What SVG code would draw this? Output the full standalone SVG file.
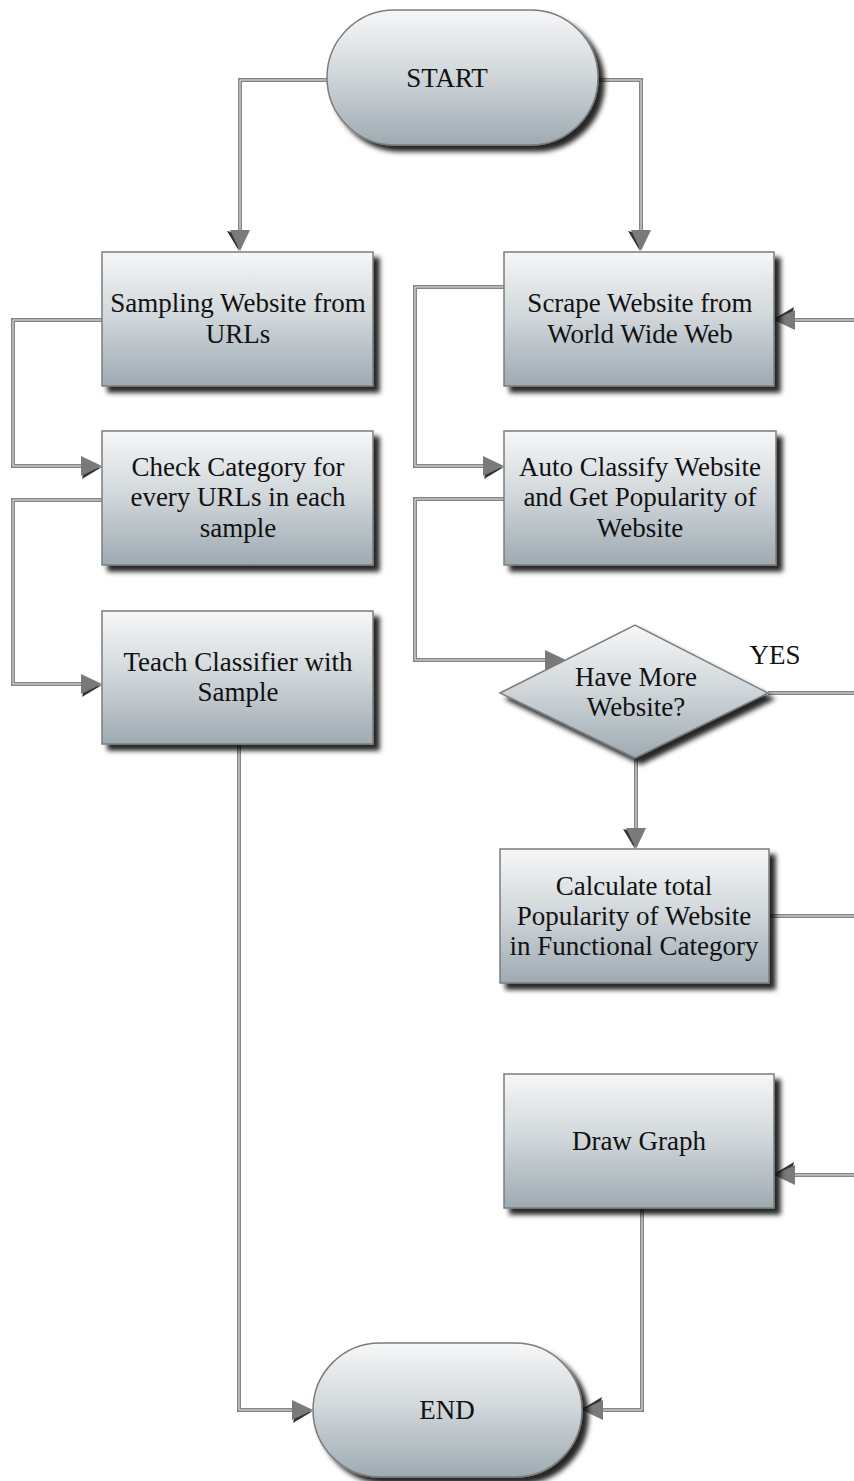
<svg xmlns="http://www.w3.org/2000/svg" width="854" height="1481" viewBox="0 0 854 1481">
  <defs>
    <linearGradient id="fill" x1="0" y1="0" x2="0" y2="1">
      <stop offset="0" stop-color="#f6f7f8"/>
      <stop offset="0.5" stop-color="#cfd5d9"/>
      <stop offset="1" stop-color="#9eaab2"/>
    </linearGradient>
    <filter id="shadow" x="-10%" y="-10%" width="125%" height="130%">
      <feGaussianBlur in="SourceAlpha" stdDeviation="2.5"/>
      <feOffset dx="6" dy="6" result="b"/>
      <feFlood flood-color="#000" flood-opacity="0.85"/>
      <feComposite in2="b" operator="in"/>
      <feMerge><feMergeNode/><feMergeNode in="SourceGraphic"/></feMerge>
    </filter>
    <marker id="arrow" markerUnits="userSpaceOnUse" markerWidth="28" markerHeight="28" viewBox="-2 -13 28 28" refX="0" refY="0" orient="auto" overflow="visible">
      <path d="M3,4 L21,1 L1,13 Z" fill="#111" opacity="0.85"/>
      <path d="M0,-10 L21,0 L0,10 Z" fill="#7a7a7a"/>
    </marker>
    <style>
      .node { fill: url(#fill); stroke: #7c7c7c; stroke-width: 1.5; filter: url(#shadow); }
      .lbl { font-family: "Liberation Serif", "Times New Roman", serif; font-size: 27px; fill: #111; text-anchor: middle; }
      .wire { fill: none; stroke: #858585; stroke-width: 4; }
      .core { fill: none; stroke: #e4e4e4; stroke-width: 1; }
    </style>
  </defs>

  <!-- connectors: outer grey line with a light core, arrowheads on the outer line -->
  <g id="connectors">
    <g class="wires">
      <path class="wire" d="M327,80 H240 V230" marker-end="url(#arrow)"/>
      <path class="wire" d="M598,80 H641 V230" marker-end="url(#arrow)"/>
      <path class="wire" d="M102,320 H13 V466 H81" marker-end="url(#arrow)"/>
      <path class="wire" d="M102,500 H13 V684 H81" marker-end="url(#arrow)"/>
      <path class="wire" d="M504,287 H415 V466 H483" marker-end="url(#arrow)"/>
      <path class="wire" d="M504,499 H415 V660 H545" marker-end="url(#arrow)"/>
      <path class="wire" d="M768,693 H854"/>
      <path class="wire" d="M636,758 V828" marker-end="url(#arrow)"/>
      <path class="wire" d="M769,916 H854"/>
      <path class="wire" d="M854,320 H795" marker-end="url(#arrow)"/>
      <path class="wire" d="M854,1175 H795" marker-end="url(#arrow)"/>
      <path class="wire" d="M239,744 V1410 H292" marker-end="url(#arrow)"/>
      <path class="wire" d="M642,1208 V1410 H603" marker-end="url(#arrow)"/>
    </g>
    <g class="cores">
      <path class="core" d="M327,80 H240 V230"/>
      <path class="core" d="M598,80 H641 V230"/>
      <path class="core" d="M102,320 H13 V466 H81"/>
      <path class="core" d="M102,500 H13 V684 H81"/>
      <path class="core" d="M504,287 H415 V466 H483"/>
      <path class="core" d="M504,499 H415 V660 H545"/>
      <path class="core" d="M768,693 H854"/>
      <path class="core" d="M636,758 V828"/>
      <path class="core" d="M769,916 H854"/>
      <path class="core" d="M854,320 H795"/>
      <path class="core" d="M854,1175 H795"/>
      <path class="core" d="M239,744 V1410 H292"/>
      <path class="core" d="M642,1208 V1410 H603"/>
    </g>
  </g>

  <g id="start">
    <rect class="node" x="327" y="10" width="271" height="135" rx="67.5" ry="67.5"/>
    <text class="lbl" x="447" y="87">START</text>
  </g>

  <g id="sampling">
    <rect class="node" x="102" y="252" width="271" height="134"/>
    <text class="lbl" x="238" y="312">Sampling Website from</text>
    <text class="lbl" x="238" y="343">URLs</text>
  </g>

  <g id="check-category">
    <rect class="node" x="102" y="431" width="271" height="134"/>
    <text class="lbl" x="238" y="476">Check Category for</text>
    <text class="lbl" x="238" y="506">every URLs in each</text>
    <text class="lbl" x="238" y="537">sample</text>
  </g>

  <g id="teach-classifier">
    <rect class="node" x="102" y="611" width="271" height="133"/>
    <text class="lbl" x="238" y="671">Teach Classifier with</text>
    <text class="lbl" x="238" y="701">Sample</text>
  </g>

  <g id="scrape">
    <rect class="node" x="504" y="252" width="270" height="134"/>
    <text class="lbl" x="640" y="312">Scrape Website from</text>
    <text class="lbl" x="640" y="343">World Wide Web</text>
  </g>

  <g id="auto-classify">
    <rect class="node" x="504" y="431" width="272" height="134"/>
    <text class="lbl" x="640" y="476">Auto Classify Website</text>
    <text class="lbl" x="640" y="506">and Get Popularity of</text>
    <text class="lbl" x="640" y="537">Website</text>
  </g>

  <g id="have-more">
    <polygon class="node" points="500,693 635,625 768,693 635,758"/>
    <text class="lbl" x="636" y="686">Have More</text>
    <text class="lbl" x="636" y="716">Website?</text>
  </g>
  <text class="lbl" x="775" y="664">YES</text>

  <g id="calculate">
    <rect class="node" x="500" y="849" width="269" height="134"/>
    <text class="lbl" x="634" y="895">Calculate total</text>
    <text class="lbl" x="634" y="925">Popularity of Website</text>
    <text class="lbl" x="634" y="955">in Functional Category</text>
  </g>

  <g id="draw-graph">
    <rect class="node" x="504" y="1074" width="270" height="134"/>
    <text class="lbl" x="639" y="1150">Draw Graph</text>
  </g>

  <g id="end">
    <rect class="node" x="313" y="1343" width="269" height="134" rx="67" ry="67"/>
    <text class="lbl" x="447" y="1419">END</text>
  </g>
</svg>
